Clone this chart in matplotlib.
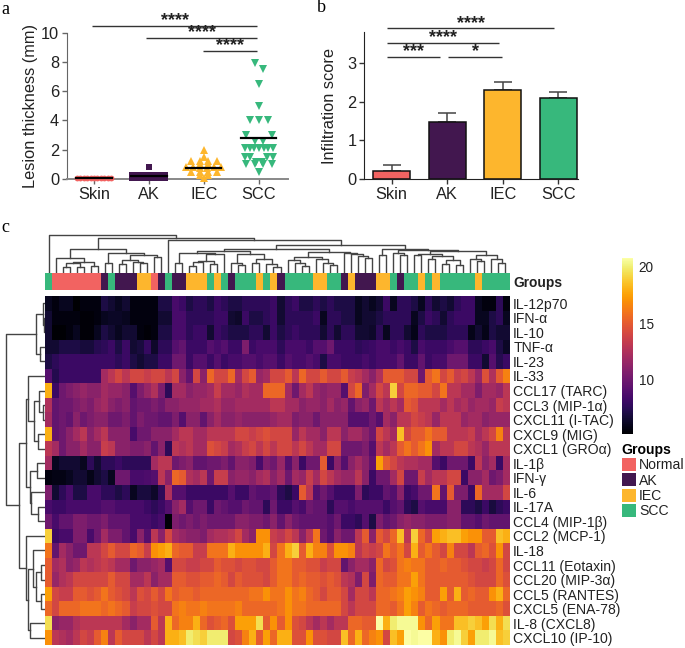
import numpy as np
import matplotlib
matplotlib.use('Agg')
import matplotlib.pyplot as plt
from matplotlib.colors import ListedColormap
from matplotlib.patches import Patch

plt.rcParams['font.family'] = ['Liberation Sans', 'DejaVu Sans']

W, H = 685, 648
C_NORMAL, C_AK, C_IEC, C_SCC = '#F26361', '#42174F', '#FDB62D', '#37B87C'
CATS = ['Skin', 'AK', 'IEC', 'SCC']

# panel a, lesion thickness (mm)
SKIN = [0.05] * 11
AK = [0.8] + [0.25] * 7 + [0.08] * 9
IEC = [2.0, 1.5, 1.2, 1.2, 1.2, 1.2, 1.0, 1.0, 0.8, 0.8, 0.8, 0.8, 0.75, 0.75, 0.5, 0.5, 0.45, 0.45, 0.3, 0.3, 0.05]
SCC = [7.95, 7.55, 6.5, 5.0, 4.05, 4.05, 4.05, 3.0, 3.0, 2.6, 2.6, 2.1, 2.1, 2.1, 2.1, 2.1, 2.1, 2.1,
       1.5, 1.5, 1.5, 1.5, 1.15, 1.15, 1.0, 1.0, 1.0, 1.0, 0.5]
THICK_MEANS = [0.08, 0.2, 0.77, 2.8]

# panel b, infiltration score
SCORE = [0.2, 1.48, 2.3, 2.1]
SCORE_ERR = [0.16, 0.22, 0.22, 0.14]

# panel c
CYTOKINES = ['IL-12p70', 'IFN-α', 'IL-10', 'TNF-α', 'IL-23', 'IL-33', 'CCL17 (TARC)', 'CCL3 (MIP-1α)',
             'CXCL11 (I-TAC)', 'CXCL9 (MIG)', 'CXCL1 (GROα)', 'IL-1β', 'IFN-γ', 'IL-6', 'IL-17A',
             'CCL4 (MIP-1β)', 'CCL2 (MCP-1)', 'IL-18', 'CCL11 (Eotaxin)', 'CCL20 (MIP-3α)', 'CCL5 (RANTES)',
             'CXCL5 (ENA-78)', 'IL-8 (CXCL8)', 'CXCL10 (IP-10)']
# 0 normal, 1 AK, 2 IEC, 3 SCC
SAMPLE_GROUP = [3, 0, 0, 0, 0, 0, 0, 0, 1, 3, 1, 1, 1, 2, 2, 0, 1, 3, 1, 1, 2, 2, 2, 3, 2, 3, 1, 3, 3, 3, 2, 3, 2,
                1, 3, 3, 3, 3, 2, 2, 3, 3, 1, 2, 1, 1, 1, 2, 2, 3, 1, 3, 3, 2, 3, 2, 3, 3, 3, 3, 3, 2, 3, 3, 3, 3]
HEAT = [
    [6, 5.5, 6, 6, 5, 5.5, 5.5, 5.5, 7, 6.5, 6, 6.5, 5.5, 5.5, 5.5, 5.5, 7, 7, 8.5, 8, 7, 7.5, 7.5, 7, 8, 7.5, 7, 7, 7.5, 7.5, 7.5, 7.5, 8,
     6.5, 7.5, 8, 7, 7, 7.5, 7, 7.5, 7, 7, 7, 6, 6.5, 6, 6.5, 8, 6, 7.5, 7.5, 7, 6, 7.5, 6.5, 7, 6.5, 7.5, 8, 8, 6, 5.5, 5.5, 7.5, 5.5],
    [6.5, 5.5, 5.5, 5.5, 5.5, 5.3, 5.3, 5.5, 6, 6.2, 6.2, 6, 5.5, 5.5, 5.5, 5.5, 6.5, 6.5, 8.5, 8.5, 7.5, 7.5, 7.5, 7.5, 8, 8, 6.5, 6.3, 8, 7, 7, 7.5, 8,
     6.5, 7.5, 7.5, 7.5, 7.5, 8, 6, 7.5, 7.5, 7, 7, 6, 6.5, 6.5, 7, 7.5, 7.5, 7.5, 7.5, 6, 7, 8, 7.5, 6.5, 7.5, 8, 8, 8, 6, 6, 7, 7.5, 6],
    [6.5, 5.2, 5.2, 5.5, 6, 5.3, 5.3, 6, 7, 6.5, 6, 6.5, 6.5, 5.5, 5.3, 5.5, 7, 7, 8.5, 8.5, 7.5, 8, 8, 6.5, 8, 7.5, 7, 7, 7, 7.5, 7.5, 6.5, 8,
     7, 7.5, 8, 7.5, 7.5, 7.5, 6.5, 7.5, 6.5, 7.5, 7.5, 6.5, 6.5, 6.3, 7.5, 6, 7.5, 7.5, 6.5, 5.8, 7.5, 7, 7, 7, 7.5, 7.5, 7.5, 5.8, 6.5, 5.8, 7, 6.5, 6.5],
    [6.5, 6.5, 7, 7, 7, 6.7, 6.7, 7.3, 7.5, 8, 7, 8, 6.5, 6.8, 7.8, 6.3, 7.5, 7.5, 9, 9.5, 8, 8, 8, 9, 8.5, 9, 8, 8, 10.5, 8, 8.5, 8.5, 8.5,
     7.5, 8.5, 8.5, 8.5, 8, 9, 9, 10, 8, 8, 8, 7.5, 7.8, 8, 8.5, 8.5, 8, 8.5, 8, 7, 8.5, 8, 8, 8, 8.5, 9, 9, 7.5, 7.5, 8, 8.5, 7, 6.2],
    [7, 7.5, 8, 8, 8, 8, 8, 8, 8, 8, 7.5, 8, 7, 6.5, 7, 7, 8, 8, 10, 10, 8, 9, 9, 8, 9, 8, 8.5, 8.5, 9, 9, 8.5, 9, 9,
     8, 9, 8.5, 8.5, 9, 8.5, 7, 8.5, 8.5, 8, 8, 8, 8.5, 8, 8.5, 8.5, 8.5, 9.5, 8, 8, 9.5, 8, 8.5, 8.5, 10, 10, 10, 8, 8, 6.5, 9, 7.3, 8],
    [9, 7.2, 8, 8, 8, 8, 8, 8, 12, 13, 14, 13, 14, 14, 13.5, 14, 14, 13, 14, 11, 9.5, 14, 11, 15.5, 14, 14, 15.5, 12, 14, 15, 11.5, 12, 14,
     14, 15, 13, 15.5, 14, 14, 15, 14, 14, 15, 13.5, 13, 12, 11, 12.5, 15, 15, 15, 14, 14, 10, 15, 16, 14, 15, 13.5, 14, 13, 11.5, 14.5, 12.5, 15, 16.5],
    [18, 8, 10, 10.5, 11, 11.5, 11, 11, 12, 11.5, 11.5, 11, 9, 10.5, 11.5, 12.5, 10.5, 7.5, 12, 12, 11, 11.5, 11.5, 12, 13.5, 12, 12, 11.5, 12.5, 12, 12, 15.5, 15.5,
     15.5, 12, 10, 12, 13, 11.5, 11, 11.5, 11.5, 9, 14, 15.5, 10.5, 12, 14, 13, 19, 14, 15.5, 15.5, 15, 15, 14, 16, 13, 13, 12, 12, 10.5, 12, 12, 11.5, 13],
    [12.5, 9.5, 10, 10, 10.5, 11, 10.5, 11.5, 12, 11, 10.5, 11, 9.5, 10, 10, 10.5, 10, 11, 11, 11.5, 11.5, 11.5, 12, 12, 12.5, 11.5, 11.5, 12, 12, 12, 12, 12, 13,
     13, 12, 12, 11, 11.5, 11.5, 11, 12, 11, 11.5, 9.5, 11, 11.5, 10, 13, 12, 13, 12, 15, 14.5, 13, 13, 13, 12, 13, 12, 12.5, 11.5, 12, 12, 11.5, 13.5, 13],
    [12, 9.5, 10, 9.5, 11, 10, 10.5, 11, 11, 10, 10, 10.5, 9.5, 10.5, 10, 10, 9.5, 9.5, 10.5, 9, 11, 11, 9.5, 11, 12, 11, 11, 11.5, 11, 11, 11, 11, 11.5,
     12, 12, 10.5, 11, 11, 10, 11, 11, 11, 11, 9, 9, 9, 10, 9, 12, 11, 13, 13, 14, 13.5, 13, 11.5, 13, 13, 13, 11.5, 12, 12, 11, 11.5, 11.5, 11.5],
    [18, 9.5, 10, 11, 12, 13, 11, 12, 13, 11, 11, 11, 8.5, 10, 10, 11, 11, 11, 12, 13, 13, 12, 12, 13, 13, 13, 13, 14, 14, 13.5, 14, 14.5, 14,
     14, 14, 11.5, 13, 12, 12, 11, 13, 13, 11, 12, 12, 11, 10, 14, 13, 12, 18.5, 14, 15, 15, 16, 15, 15, 13, 13, 13, 13.5, 12, 13, 14, 16.5, 13],
    [13, 12, 10, 11, 11, 12, 11, 11, 13.5, 13, 11, 11, 10.5, 10.5, 11, 9.5, 11, 7.5, 13, 12.5, 13, 12, 12, 14.5, 14, 13.5, 12, 12.5, 13.5, 14, 13, 14, 13,
     14, 14, 13, 14, 13, 12, 12, 14, 14, 10, 10, 10, 10.5, 9, 13, 12, 13, 15, 16, 15, 16, 17, 12, 13, 13, 14, 14, 13, 12.5, 11.5, 13, 13, 13],
    [12, 6, 6.5, 6.5, 6.5, 6, 7.5, 6.5, 7.5, 7.5, 8, 7.5, 7.5, 7.5, 7.5, 12, 13, 13, 10, 10.5, 11, 9.5, 9.5, 10, 10, 10.5, 9.5, 11, 11, 10.5, 8.5, 10.5, 10,
     11.5, 9, 11, 8, 10, 10, 15, 8, 11, 9, 11, 12, 11, 9.5, 17.5, 15, 14, 13, 12.5, 12.5, 12, 12, 9, 8, 10, 10, 10, 8, 13, 11, 12, 8, 12],
    [5.5, 5.7, 5.7, 6, 6.5, 6.5, 5.8, 6.5, 7, 6, 10, 10, 8.5, 8.5, 8.7, 9, 13, 11, 15.5, 15, 12.5, 12, 13, 10, 13.5, 13.5, 11, 11.5, 11.5, 11, 12, 12.5, 11,
     12, 10, 12, 11.5, 13.5, 12, 14, 13, 12, 11.5, 11.5, 13, 11, 8, 10, 10, 12, 14, 10, 10, 13.5, 12, 13, 13, 14, 14, 8, 11, 11, 12, 10, 10.5, 12],
    [10.5, 6.5, 7.5, 8.5, 7, 7, 8.5, 8.5, 7.5, 7.5, 7, 7.5, 6, 6.8, 6.8, 6.3, 7.5, 12.5, 9, 9, 8, 8, 8, 8, 8, 8, 9, 8, 8, 9.5, 9, 9, 9.5,
     7.5, 7, 8, 15, 13, 9, 10, 9, 8, 8, 8, 10.5, 7.5, 8, 8, 9.5, 9, 11, 8, 8.5, 10, 10, 16, 9.5, 15, 10.5, 10.5, 8, 15.5, 12, 12, 12, 14],
    [8.5, 8, 8, 8.5, 8.5, 8.5, 8.5, 8.5, 9, 9, 8.5, 8.5, 8.5, 8.5, 8, 7.5, 8, 9, 11, 12, 9, 10, 10, 8, 10, 9.5, 9, 9, 10, 9.5, 9.5, 7.5, 10,
     8, 8, 9, 8.5, 10, 9.5, 9.5, 7.5, 9, 9, 8.5, 9, 9, 9, 9, 8, 9, 9.5, 7.5, 7, 9, 8.5, 8.5, 8.5, 11, 11, 7.5, 7.5, 7, 8, 6.8, 7.5, 8],
    [10, 8.5, 9.5, 9.5, 10.5, 10.5, 10, 10, 10.5, 9.5, 9.5, 9.5, 8.5, 8.5, 8.5, 8, 8.5, 5.3, 10.5, 10, 10.5, 10, 10.5, 10, 10, 10, 10, 11, 11, 10.5, 10.5, 10, 11,
     9.5, 11, 10, 9.5, 9.5, 9.5, 9.5, 9, 10, 8, 8, 7.5, 9, 7, 10.5, 9.5, 10, 11, 11.5, 11, 11, 10.5, 10.5, 10.5, 11, 11, 9.5, 9.5, 9, 10, 9.5, 9.5, 9.5],
    [19, 8, 8.5, 8.5, 10.5, 10.5, 8.5, 10, 12, 10.5, 10.5, 9.5, 8.5, 11, 9, 13, 11, 14, 12, 11.5, 11, 11, 10.5, 12, 12.5, 12.5, 13, 14, 12, 11, 17, 17, 13.5,
     13, 14, 13, 11, 13, 16, 10, 9, 11, 10, 10, 13, 15, 11, 15, 14, 15.5, 18.5, 13, 19, 15.5, 14, 17.5, 18, 18.5, 18.5, 17.5, 17, 17, 15, 15, 18.5, 18],
    [16, 9.5, 12, 11, 10, 10, 13, 13, 14, 15, 14, 14, 15.5, 15, 13.5, 17, 17.5, 18, 15.5, 15, 15, 13.5, 13.5, 16, 16, 16, 18, 17, 17, 17, 17, 18, 14,
     16, 18, 19, 15, 18, 16.5, 16.5, 14.5, 17, 17, 16.5, 13, 14, 13.5, 14, 16, 15, 16, 14, 18, 15, 16, 15, 14, 16.5, 14, 14, 13, 15, 15.5, 14.5, 17, 14],
    [15, 12, 12.5, 11, 11.5, 13, 12.5, 13, 13.5, 13, 12, 12, 10, 11, 11, 11.5, 12, 9, 14, 14, 13.5, 13.5, 14, 14, 15, 14.5, 14.5, 14, 14.5, 14.5, 14, 14, 15,
     16, 16, 15, 15, 14.5, 14.5, 13.5, 14, 14, 9.5, 11, 12, 12, 11, 15.5, 14, 14.5, 16, 16.5, 16, 16, 15, 15, 15.5, 15, 15, 14.5, 14, 14, 13.5, 14, 15.5, 14],
    [15, 11.5, 12.5, 13, 14, 14, 14, 14, 14, 15, 14, 14, 12, 12, 13, 11, 12, 12, 15, 15, 14.5, 14.5, 15, 15, 15.5, 15, 14, 15, 14.5, 14.5, 14.5, 14, 15,
     16, 16, 15, 15.5, 15, 15, 14.5, 15, 14.5, 13, 12.5, 10.5, 14, 10.5, 15.5, 15, 15, 16, 16, 17.5, 16, 15, 15, 15, 15, 15, 15, 14.5, 14, 14, 14, 15.5, 14.5],
    [17.5, 14, 13.5, 13.5, 15, 15, 14.5, 15, 16, 15, 14.5, 14, 13, 14.5, 14, 15, 14, 16, 15, 15.5, 15.5, 15, 15.5, 15.5, 15.5, 15.5, 15.5, 15.5, 15.5, 16, 16, 17, 16,
     16, 17, 16, 16.5, 15.5, 15, 14, 15, 15, 14, 12, 14, 14, 13, 15.5, 15.5, 16, 16.5, 17.5, 17, 16.5, 15, 15, 17.5, 15, 18, 15, 15.5, 15, 15, 17, 18, 15.5],
    [15.5, 14, 15.5, 15.5, 15.5, 16, 16, 16, 15.5, 16, 15.5, 15, 13.5, 14, 14, 14.5, 14, 14, 16, 16.5, 16, 16, 16.5, 16, 16, 16, 16, 16.5, 15.5, 15.5, 15.5, 15.5, 15.5,
     16, 17, 16, 16, 15.5, 15.5, 15.5, 15.5, 15.5, 14, 13, 14, 14, 14, 15.5, 15.5, 15, 16, 17.5, 16.5, 15, 16, 15.5, 15, 15.5, 15.5, 15.5, 15, 15, 15, 15, 15.5, 14.5],
    [19.5, 11, 11.5, 11.5, 12.5, 13, 13, 13, 13, 13, 13, 12, 11, 12, 12, 15, 13, 18, 15.5, 16.5, 16.5, 18, 15.5, 14.5, 15, 15.5, 14.5, 17.5, 17.5, 17.5, 19.5, 15, 17,
     15, 17, 14.5, 14, 13, 12, 13, 12, 13, 13, 15.5, 15.5, 15, 15, 21, 18, 20, 20.5, 20.5, 20.5, 17, 15.5, 17.5, 16, 16, 18.5, 18.5, 19, 18.5, 17.5, 19.5, 18, 19.5],
    [17, 13, 12.5, 12, 13, 14, 13.5, 15, 16.5, 13, 15, 14, 14, 14, 13, 14, 13, 18, 18, 18.5, 20, 19.5, 19, 20, 20, 20, 14, 14.5, 16.5, 18, 15, 17.5, 15.5,
     18, 18, 14.5, 14.5, 17, 14.5, 14.5, 14, 14, 18.5, 15.5, 18, 15.5, 16.5, 17, 14, 18.5, 17.5, 21, 20.5, 21, 21, 18, 17, 20, 20.5, 19, 17.5, 20, 20, 20.5, 18.5, 19],
]
V_MIN, V_MAX = 5.1, 20.8

# dendrograms as (height, left child, right child), an int child is a leaf
TOP_TREE = (113, 0, (103,
    (70,
     (43, 1, (33, (30, (18, 2, 3), (18, 4, 5)), (20, 6, 7))),
     (58, (28, 8, 9), (53, (38, (26, 10, 11), (33, 12, (30, 13, 14))), (46, 15, 16)))),
    (98, 17, (83,
     (70,
      (65,
       (60, (28, 18, 19), (56, (36, (33, (20, 20, 21), 22), (26, 23, 24)), 25)),
       (55, (30, 26, (22, 27, 28)), (40, (28, 29, 30), (26, 31, (18, 32, 33))))),
      (62,
       (48, (38, 34, (28, 35, (20, 36, 37))), (40, 38, (30, 39, (22, 40, 41)))),
       (60, 42, (56, 43, (50, 44, (44, 45, 46)))))),
     (72,
      (53, 47, 48),
      (68,
       (60, 49, (52, 50, 51)),
       (64,
        (56, (54, 52, 53), (50, (40, 54, 55), (38, (26, 56, 57), (24, 58, 59)))),
        (52, (42, 60, (34, 61, 62)), (40, 63, (30, 64, 65))))))))))
ROW_TREE = (118,
    (28, (6, 0, (3, 1, 2)), (15, 3, 4)),
    (78,
     (57,
      (50, 5, (33, (18, 6, (5, 7, 8)), (22, 9, 10))),
      (45, (25, 11, 12), (42, 13, (22, 14, 15)))),
     (58, 16, (51, (36, 17, (28, (13, 18, 19), (13, 20, 21))), (45, 22, 23)))))


def px_axes(x0, y0, x1, y1):
    # axes from pixel box, y counted from the top of the image
    return plt.gcf().add_axes([x0 / W, 1 - y1 / H, (x1 - x0) / W, (y1 - y0) / H])


def swarm(values, gap, half):
    # Prism-like columns: values close together share a row, highest on the outside
    vals = sorted(values, reverse=True)
    xs, ys = [], []
    i = 0
    while i < len(vals):
        j = i
        while j < len(vals) and vals[i] - vals[j] <= gap:
            j += 1
        n = j - i
        step = min(0.158, 2 * half / (n - 1)) if n > 1 else 0
        offs = [(k - (n - 1) / 2) * step for k in range(n)]
        offs.sort(key=lambda v: -abs(v))
        xs += offs
        ys += vals[i:j]
        i = j
    return np.array(xs), np.array(ys)


def brackets(ax, items, size=13):
    for x0, x1, y, ty, label in items:
        ax.plot([x0, x1], [y, y], color='#333333', lw=1, clip_on=False, solid_capstyle='butt')
        ax.text((x0 + x1) / 2, ty, label, ha='center', va='center', fontsize=size, fontweight='bold',
                color='#222222', clip_on=False)


def draw_tree(ax, node, horizontal, base, color='#444444'):
    if isinstance(node, int):
        return node, base
    h, a, b = node
    pa, ha = draw_tree(ax, a, horizontal, base, color)
    pb, hb = draw_tree(ax, b, horizontal, base, color)
    xs = [pa, pa, pb, pb]
    ys = [ha, h, h, hb]
    if horizontal:
        ax.plot(ys, xs, color=color, lw=1.0)
    else:
        ax.plot(xs, ys, color=color, lw=1.0)
    return (pa + pb) / 2, h


fig = plt.figure(figsize=(W / 100, H / 100), dpi=100)
fig.text(1 / W, 1 - 9 / H, 'a', family='Liberation Serif', fontsize=13, va='center')
fig.text(317 / W, 1 - 8 / H, 'b', family='Liberation Serif', fontsize=13, va='center')
fig.text(1 / W, 1 - 228 / H, 'c', family='Liberation Serif', fontsize=13, va='center')

# panel a
ax = px_axes(66.7, 32.7, 288, 179)
ax.set_xlim(-0.496, 3.53)
ax.set_ylim(0, 10)
series = [(SKIN, C_NORMAL, 'o', 0.1, 0.31), (AK, C_AK, 's', 0.1, 0.3), (IEC, C_IEC, '^', 0.12, 0.32), (SCC, C_SCC, 'v', 0.45, 0.255)]
for i, (vals, col, mk, gap, half) in enumerate(series):
    xo, yv = swarm(vals, gap, half)
    ms = 4.2 if mk in 'os' else 5.6
    ax.plot(i + xo, yv, ls='none', marker=mk, color=col, ms=ms, mew=0, clip_on=False, zorder=3)
    ax.plot([i - 0.32, i + 0.32], [THICK_MEANS[i]] * 2, color='black', lw=1.6, zorder=4, clip_on=False)
ax.set_xticks(range(4), CATS)
ax.set_yticks(range(0, 11, 2))
ax.set_ylabel('Lesion thickness (mm)', fontsize=11.8, labelpad=2, color='#222222')
ax.tick_params(labelsize=11.8, length=3.5, width=1, color='#666666', labelcolor='#222222', pad=2)
ax.spines[['top', 'right']].set_visible(False)
ax.spines['left'].set_color('#666666')
ax.spines['bottom'].set_color('#888888')
ax.spines['bottom'].set_linewidth(1.4)
brackets(ax, [(-0.03, 2.97, 10.45, 10.8, '****'), (0.95, 2.97, 9.65, 10.0, '****'), (1.98, 2.97, 8.75, 9.1, '****')])

# panel b
ax = px_axes(364, 32, 578, 179)
ax.set_xlim(-0.5, 3.357)
ax.set_ylim(0, 3.8)
ax.bar(range(4), SCORE, width=0.66, color=[C_NORMAL, C_AK, C_IEC, C_SCC], edgecolor='#111111', lw=1.1, zorder=2)
ax.errorbar(range(4), SCORE, yerr=[[0] * 4, SCORE_ERR], fmt='none', ecolor='#444444', elinewidth=1.1, capsize=6.5, capthick=1.1, zorder=1)
ax.set_xticks(range(4), CATS)
ax.set_yticks(range(4))
ax.set_ylabel('Infiltration score', fontsize=11.8, labelpad=7, color='#222222')
ax.tick_params(labelsize=11.8, length=3.5, width=1, color='#333333', labelcolor='#222222', pad=2)
ax.spines[['top', 'right']].set_visible(False)
ax.spines[['left', 'bottom']].set_color('#222222')
brackets(ax, [(-0.08, 2.93, 3.9, 4.03, '****'), (-0.08, 1.93, 3.52, 3.65, '****'),
              (-0.08, 0.87, 3.16, 3.29, '***'), (1.02, 1.99, 3.16, 3.29, '*')])

# panel c, heatmap
heat = np.array(HEAT)
ax = px_axes(45, 296, 509, 645)
im = ax.imshow(heat, cmap='inferno', vmin=V_MIN, vmax=V_MAX, aspect='auto', interpolation='nearest')
ax.set_xticks([])
ax.yaxis.tick_right()
ax.set_yticks(range(len(CYTOKINES)), CYTOKINES, fontsize=10.1, color='#222222')
ax.tick_params(length=0, pad=3)
for s in ax.spines.values():
    s.set_visible(False)

# group strip
ax = px_axes(45, 272.7, 509, 290)
ax.imshow([SAMPLE_GROUP], cmap=ListedColormap([C_NORMAL, C_AK, C_IEC, C_SCC]), vmin=0, vmax=3, aspect='auto', interpolation='nearest')
ax.set_xticks([])
ax.yaxis.tick_right()
ax.set_yticks([0], ['Groups'], fontsize=9.9, fontweight='bold', color='#222222')
ax.tick_params(length=0, pad=3)
for s in ax.spines.values():
    s.set_visible(False)

# dendrograms
ax = px_axes(45, 232.7, 509, 272.7)
draw_tree(ax, TOP_TREE, False, 3)
ax.set_xlim(-0.5, 65.5)
ax.set_ylim(0, 120)
ax.axis('off')

ax = px_axes(0, 296, 45, 645)
draw_tree(ax, ROW_TREE, True, 1)
ax.set_xlim(135, 0)
ax.set_ylim(23.5, -0.5)
ax.axis('off')

# colorbar
cax = px_axes(621.7, 258, 633, 434)
cb = fig.colorbar(im, cax=cax, ticks=[10, 15, 20])
cb.outline.set_visible(False)
cax.tick_params(length=0, labelsize=9.8, pad=4, labelcolor='#222222')

# legend
handles = [Patch(facecolor=c, edgecolor='none', label=n) for c, n in
           zip([C_NORMAL, C_AK, C_IEC, C_SCC], ['Normal', 'AK', 'IEC', 'SCC'])]
leg = fig.legend(handles=handles, title='Groups', loc='upper left', bbox_to_anchor=(621.5 / W, 1 - 443 / H),
                 frameon=False, fontsize=10.1, handlelength=1.05, handleheight=1.05, handletextpad=0.2,
                 labelspacing=0.07, borderpad=0, borderaxespad=0, alignment='left',
                 title_fontproperties={'weight': 'bold', 'size': 10.1})
for t in leg.get_texts():
    t.set_color('#222222')

fig.savefig('out.png', dpi=100)
